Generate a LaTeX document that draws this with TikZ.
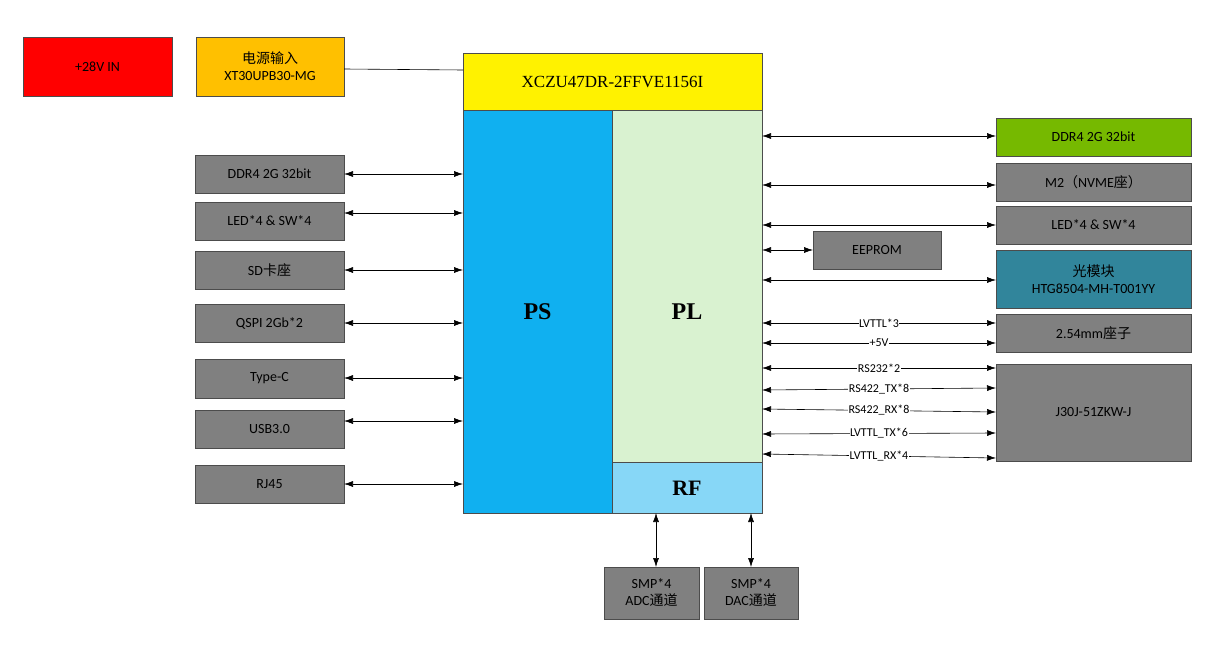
\documentclass[tikz,border=0pt]{standalone}
\usepackage{fontspec}
\setmainfont{Carlito}
\newfontfamily\cjk{Noto Sans CJK SC}
\newfontfamily\ser{Liberation Serif}
\usetikzlibrary{arrows.meta}
\definecolor{gbox}{RGB}{128,128,128}
\definecolor{psc}{RGB}{16,176,240}
\definecolor{plc}{RGB}{217,242,208}
\definecolor{rfc}{RGB}{135,215,247}
\definecolor{grn}{RGB}{118,185,0}
\definecolor{teal}{RGB}{49,133,155}
\definecolor{org}{RGB}{255,192,0}
\begin{document}
\begin{tikzpicture}[x=1pt,y=-1pt,
  box/.style={draw=black!70,line width=0.6pt,fill=gbox,font=\fontsize{14}{16}\selectfont,align=center},
  blk/.style={draw=black!70,line width=0.6pt},
  ar/.style={{Latex[length=9pt,width=6pt]}-{Latex[length=9pt,width=6pt]},line width=0.6pt},
  lab/.style={fill=white,inner sep=0.5pt,font=\fontsize{12}{14}\selectfont}]
\useasboundingbox (0,0) rectangle (1218,666);
\fill[white] (0,0) rectangle (1218,666);
\def\bx#1#2#3#4#5#6{\path[box,fill=#6] (#2,#3) rectangle (#4,#5) node[midway,#1]{};}
% top left
\draw[blk,fill=red] (23,37) rectangle (172,96) node[midway,font=\fontsize{14}{16}\selectfont] (v28) {+28V IN};
\draw[blk,fill=org] (196,37) rectangle (344,96);
\node[font=\fontsize{14}{17}\selectfont,align=center] (pwr) at (270,66.5) {{\cjk 电源输入}\\XT30UPB30-MG};
\coordinate (pwrR) at (344,69);
% chip
\draw[blk,fill=yellow] (463,53) rectangle (762,110);
\node[font=\ser\fontsize{17}{20}\selectfont] (chip) at (612.5,82) {XCZU47DR-2FFVE1156I};
\coordinate (chipL) at (463,70);
\draw[line width=0.6pt] (pwrR) -- (chipL);
\draw[blk,fill=psc] (463,110) rectangle (612,513);
\node[font=\ser\bfseries\fontsize{24}{28}\selectfont] (ps) at (537.5,312) {PS};
\draw[blk,fill=plc] (612,110) rectangle (762,462);
\node[font=\ser\bfseries\fontsize{24}{28}\selectfont] (pl) at (687,312) {PL};
\draw[blk,fill=rfc] (612,462) rectangle (762,513);
\node[font=\ser\bfseries\fontsize{22}{26}\selectfont] (rf) at (687,488) {RF};
% left boxes
\foreach \n/\t/\a/\b/\y in {l1/DDR4 2G 32bit/155/193/174, l2/LED*4 \& SW*4/202/240/213, l3/SD{\cjk 卡座}/251/289/270, l4/QSPI 2Gb*2/304/342/323, l5/Type-C/359/398/378, l6/USB3.0/410/448/421, l7/RJ45/465/503/484}{
  \draw[blk,fill=gbox] (195,\a) rectangle (344,\b);
  \node[font=\fontsize{14}{16}\selectfont] (\n) at (269.5,{(\a+\b)/2}) {\t};
  \coordinate (\n R) at (344,\y);
  \coordinate (\n P) at (463,\y);
  \draw[ar] (\n R) -- (\n P);
}
% right boxes
\foreach \n/\t/\a/\b/\y/\c in {r1/DDR4 2G 32bit/118/156/136/grn, r2/M2{\cjk （}NVME{\cjk 座）}/163/201/185/gbox, r3/LED*4 \& SW*4/206/244/225/gbox}{
  \draw[blk,fill=\c] (996,\a) rectangle (1191,\b);
  \node[font=\fontsize{14}{16}\selectfont] (\n) at (1093.5,{(\a+\b)/2}) {\t};
  \coordinate (\n L) at (996,\y);
  \coordinate (\n P) at (762,\y);
  \draw[ar] (\n P) -- (\n L);
}
\draw[blk,fill=gbox] (813,231) rectangle (941,269);
\node[font=\fontsize{14}{16}\selectfont] (ee) at (877,250) {EEPROM};
\coordinate (eeL) at (813,250); \coordinate (eeP) at (762,250);
\draw[ar] (eeP) -- (eeL);
\draw[blk,fill=teal] (996,250) rectangle (1191,308);
\node[font=\fontsize{14}{17}\selectfont,align=center] (opt) at (1093.5,279) {{\cjk 光模块}\\HTG8504-MH-T001YY};
\coordinate (optL) at (996,280); \coordinate (optP) at (762,280);
\draw[ar] (optP) -- (optL);
\draw[blk,fill=gbox] (996,314) rectangle (1191,352);
\node[font=\fontsize{14}{16}\selectfont] (hdr) at (1093.5,333) {2.54mm{\cjk 座子}};
\draw[blk,fill=gbox] (996,364) rectangle (1191,461);
\node[font=\fontsize{14}{16}\selectfont] (j30) at (1093.5,412) {J30J-51ZKW-J};
\foreach \i/\t/\ya/\yb in {1/LVTTL*3/323/323, 2/+5V/343/343, 3/RS232*2/368/368, 4/RS422\_TX*8/390/388, 5/RS422\_RX*8/409/412, 6/LVTTL\_TX*6/434/433, 7/LVTTL\_RX*4/454/458}{
  \coordinate (s\i P) at (762,\ya);
  \coordinate (s\i L) at (996,\yb);
  \draw[ar] (s\i P) -- node[lab]{\t} (s\i L);
}
% bottom
\draw[blk,fill=gbox] (604,567) rectangle (699,619);
\node[font=\fontsize{14}{17}\selectfont,align=center] (adc) at (651.5,593) {SMP*4\\ADC{\cjk 通道}};
\draw[blk,fill=gbox] (704,567) rectangle (798,619);
\node[font=\fontsize{14}{17}\selectfont,align=center] (dac) at (751,593) {SMP*4\\DAC{\cjk 通道}};
\coordinate (a1) at (656,513); \coordinate (a2) at (656,567);
\coordinate (d1) at (751,513); \coordinate (d2) at (751,567);
\draw[ar] (a1) -- (a2);
\draw[ar] (d1) -- (d2);
\end{tikzpicture}
\end{document}
